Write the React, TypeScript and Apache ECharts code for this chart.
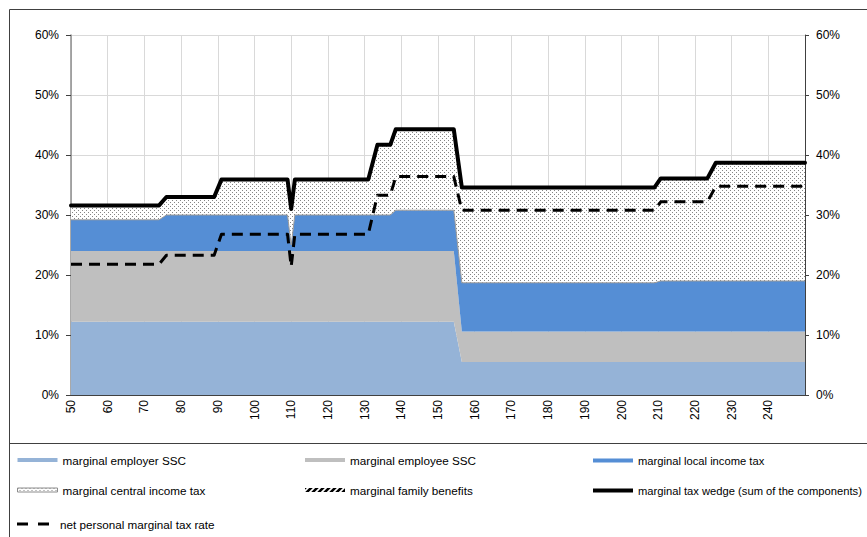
import React, { useEffect, useRef } from 'react';
import * as echarts from 'echarts';

// Gross earnings (% of average wage) at which the components change
const incomeLevels = [50, 74, 76, 89, 91, 109, 110, 111, 131, 133.5, 137, 138.5, 154.3, 156.5, 209, 210.7, 223.4, 225.7, 250];

// Components (percentage points)
const employerSSC = [12.2, 12.2, 12.2, 12.2, 12.2, 12.2, 12.2, 12.2, 12.2, 12.2, 12.2, 12.2, 12.2, 5.5, 5.5, 5.5, 5.5, 5.5, 5.5];
const employeeSSC = [11.8, 11.8, 11.8, 11.8, 11.8, 11.8, 11.8, 11.8, 11.8, 11.8, 11.8, 11.8, 11.8, 5.1, 5.1, 5.1, 5.1, 5.1, 5.1];
const localIncomeTax = [5.2, 5.2, 6.0, 6.0, 6.0, 6.0, 1.0, 6.0, 6.0, 6.0, 6.0, 6.8, 6.8, 8.1, 8.1, 8.4, 8.4, 8.4, 8.4];
const centralIncomeTax = [2.4, 2.4, 3.0, 3.0, 5.9, 5.9, 6.0, 5.9, 5.9, 11.7, 11.7, 13.5, 13.5, 15.9, 15.9, 17.1, 17.1, 19.7, 19.7];
const familyBenefits = [0, 0, 0, 0, 0, 0, 0, 0, 0, 0, 0, 0, 0, 0, 0, 0, 0, 0, 0];
const taxWedge = [31.6, 31.6, 33.0, 33.0, 35.9, 35.9, 31.0, 35.9, 35.9, 41.7, 41.7, 44.3, 44.3, 34.6, 34.6, 36.1, 36.1, 38.7, 38.7];
const netPersonalRate = [21.8, 21.8, 23.3, 23.3, 26.8, 26.8, 21.4, 26.8, 26.8, 33.3, 33.3, 36.4, 36.4, 30.8, 30.8, 32.2, 32.2, 34.8, 34.8];

const seriesNames = [
  'marginal employer SSC',
  'marginal employee SSC',
  'marginal local income tax',
  'marginal central income tax',
  'marginal family benefits',
  'marginal tax wedge (sum of the components)',
  'net personal marginal tax rate',
];

const FONT = '"Liberation Sans", Arial, sans-serif';

// value first, income second (so that ECharts stacks the value dimension)
function pairs(values: number[]) {
  return incomeLevels.map((x, i) => [values[i], x]);
}

function makeDotPattern(): HTMLCanvasElement {
  const c = document.createElement('canvas');
  c.width = 4;
  c.height = 4;
  const ctx = c.getContext('2d')!;
  ctx.fillStyle = '#ffffff';
  ctx.fillRect(0, 0, 4, 4);
  ctx.fillStyle = '#858585';
  ctx.fillRect(0, 0, 1, 1);
  ctx.fillRect(2, 2, 1, 1);
  return c;
}

function makeHatchPattern(): HTMLCanvasElement {
  const c = document.createElement('canvas');
  c.width = 6;
  c.height = 6;
  const ctx = c.getContext('2d')!;
  ctx.fillStyle = '#ffffff';
  ctx.fillRect(0, 0, 6, 6);
  ctx.strokeStyle = '#000000';
  ctx.lineWidth = 2.6;
  ctx.beginPath();
  ctx.moveTo(-1, 7); ctx.lineTo(7, -1);
  ctx.moveTo(-4, 4); ctx.lineTo(4, -4);
  ctx.moveTo(2, 10); ctx.lineTo(10, 2);
  ctx.stroke();
  return c;
}

export default function App() {
  const ref = useRef<HTMLDivElement>(null);

  useEffect(() => {
    if (!ref.current) return;
    const chart = echarts.init(ref.current, undefined, { renderer: 'svg' });
    const dots = { image: makeDotPattern(), repeat: 'repeat' };
    const hatch = { image: makeHatchPattern(), repeat: 'repeat' };

    const areaSeries = (name: string, values: number[], fill: any, line?: any) => ({
      name,
      type: 'line',
      stack: 'wedge',
      data: pairs(values),
      encode: { x: 1, y: 0 },
      symbol: 'none',
      showSymbol: false,
      color: typeof fill === 'string' ? fill : '#dddddd',
      lineStyle: line || { width: 0 },
      areaStyle: { color: fill, opacity: 1 },
      emphasis: { disabled: true },
    });

    const legendBase = {
      orient: 'vertical',
      selectedMode: false,
      itemWidth: 40,
      itemHeight: 4,
      itemGap: 18,
      padding: 0,
      textStyle: { fontSize: 11.7, color: '#000', fontFamily: FONT },
    };

    const option: any = {
      animation: false,
      textStyle: { fontFamily: FONT },
      grid: { left: 71, right: 62, top: 35, bottom: 142, containLabel: false },
      xAxis: {
        type: 'value',
        min: 50,
        max: 250,
        interval: 10,
        axisLine: { show: true, onZero: false, lineStyle: { color: '#404040', width: 1 } },
        axisTick: { show: true, inside: true, length: 4, lineStyle: { color: '#404040' } },
        axisLabel: {
          rotate: 90,
          margin: 5,
          fontSize: 12,
          color: '#000',
          fontFamily: FONT,
          formatter: (v: number) => (v === 250 ? '' : String(v)),
        },
        splitLine: { show: true, lineStyle: { color: '#d9d9d9', width: 1 } },
      },
      yAxis: [
        {
          type: 'value',
          position: 'left',
          min: 0,
          max: 60,
          interval: 10,
          axisLine: { show: true, lineStyle: { color: '#8c8c8c', width: 1.5 } },
          axisTick: { show: true, length: 5, lineStyle: { color: '#404040' } },
          axisLabel: { formatter: '{value}%', fontSize: 12, color: '#000', margin: 12, fontFamily: FONT },
          splitLine: { show: true, lineStyle: { color: '#d9d9d9', width: 1 } },
        },
        {
          type: 'value',
          position: 'right',
          min: 0,
          max: 60,
          interval: 10,
          axisLine: { show: true, lineStyle: { color: '#404040', width: 1 } },
          axisTick: { show: true, length: 4, lineStyle: { color: '#404040' } },
          axisLabel: { formatter: '{value}%', fontSize: 12, color: '#000', margin: 11, fontFamily: FONT },
          splitLine: { show: false },
        },
      ],
      legend: [
        {
          ...legendBase,
          left: 17,
          top: 454,
          data: [
            { name: seriesNames[0], icon: 'rect', itemStyle: { color: '#95B3D7', borderWidth: 0 } },
            { name: seriesNames[3], icon: 'rect', itemStyle: { color: dots, borderColor: '#8c8c8c', borderWidth: 1 } },
          ],
        },
        {
          ...legendBase,
          left: 305,
          top: 454,
          data: [
            { name: seriesNames[1], icon: 'rect', itemStyle: { color: '#BFBFBF', borderWidth: 0 } },
            { name: seriesNames[4], icon: 'rect', itemStyle: { color: hatch, borderWidth: 0 } },
          ],
        },
        {
          ...legendBase,
          left: 593,
          top: 455,
          itemGap: 19,
          textStyle: { fontSize: 11.2, color: '#000', fontFamily: FONT },
          data: [
            { name: seriesNames[2], icon: 'rect', itemStyle: { color: '#558ED5', borderWidth: 0 } },
            { name: seriesNames[5], icon: 'rect', itemStyle: { color: '#000', borderWidth: 0 } },
          ],
        },
        {
          ...legendBase,
          left: 17,
          top: 518,
          itemWidth: 38,
          itemHeight: 3,
          data: [
            {
              name: seriesNames[6],
              icon: 'path://M0,0H11V3H0Z M21,0H32V3H21Z M37.95,1.45H38V1.5H37.95Z',
              itemStyle: { color: '#000', borderWidth: 0 },
            },
          ],
        },
      ],
      series: [
        areaSeries(seriesNames[0], employerSSC, '#95B3D7'),
        areaSeries(seriesNames[1], employeeSSC, '#BFBFBF'),
        areaSeries(seriesNames[2], localIncomeTax, '#558ED5', { width: 1, color: '#9a9a9a' }),
        areaSeries(seriesNames[3], centralIncomeTax, dots),
        areaSeries(seriesNames[4], familyBenefits, hatch),
        {
          name: seriesNames[5],
          type: 'line',
          data: pairs(taxWedge),
          encode: { x: 1, y: 0 },
          symbol: 'none',
          showSymbol: false,
          color: '#000',
          lineStyle: { color: '#000', width: 4, join: 'round', cap: 'round' },
          emphasis: { disabled: true },
        },
        {
          name: seriesNames[6],
          type: 'line',
          data: pairs(netPersonalRate),
          encode: { x: 1, y: 0 },
          symbol: 'none',
          showSymbol: false,
          color: '#000',
          lineStyle: { color: '#000', width: 3, type: [11, 7], join: 'round' },
          emphasis: { disabled: true },
        },
      ],
      graphic: [
        {
          type: 'rect',
          silent: true,
          z: -10,
          shape: { x: 9.5, y: 9.5, width: 900, height: 600 },
          style: { fill: 'none', stroke: '#404040', lineWidth: 1 },
        },
        {
          type: 'line',
          silent: true,
          shape: { x1: 9, y1: 443.5, x2: 867, y2: 443.5 },
          style: { stroke: '#404040', lineWidth: 1 },
        },
      ],
    };

    chart.setOption(option);
    return () => chart.dispose();
  }, []);

  return (
    <div
      ref={ref}
      style={{ position: 'absolute', left: 0, top: 0, width: 867, height: 537, background: '#fff' }}
    />
  );
}
